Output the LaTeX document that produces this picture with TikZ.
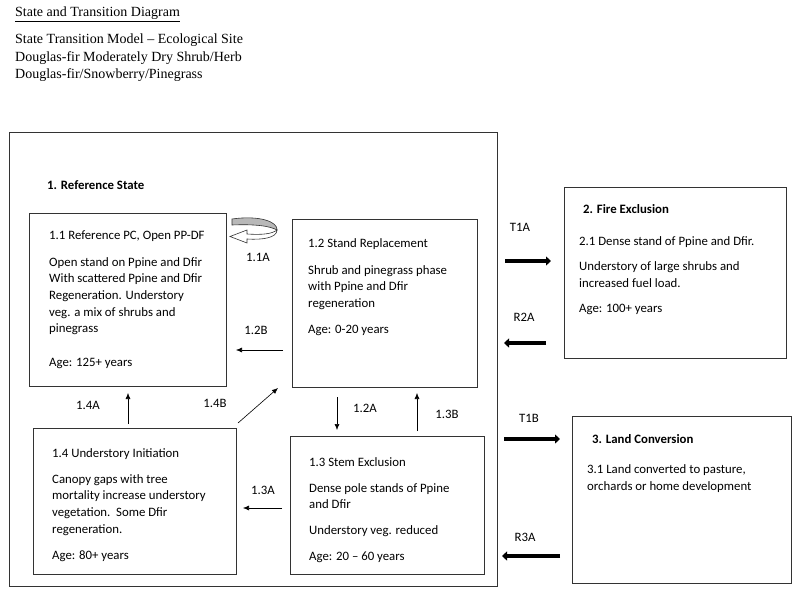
\documentclass[tikz,border=0pt]{standalone}
\usepackage{fontspec}
\setmainfont{Carlito}
\newfontfamily\headfont[Ligatures=TeX]{Liberation Serif}
\usepackage{tikz}
\usetikzlibrary{arrows.meta, calc}
\definecolor{boxGray}{rgb}{0.2,0.2,0.2}
\definecolor{loopGray}{rgb}{0.72,0.72,0.72}
\tikzset{
  statebox/.style={draw=boxGray, line width=0.8pt, inner sep=0pt},
  boxtext/.style={anchor=north west, align=left, inner sep=0pt, font=\fontsize{12.8}{16.7}\selectfont, execute at begin node=\strut},
  boxhead/.style={anchor=west, inner sep=0pt, font=\fontsize{12.8}{16.7}\selectfont\bfseries},
  steplabel/.style={inner sep=0pt, font=\fontsize{12.8}{16.7}\selectfont},
  pathway/.style={-{Latex[length=6pt,width=5pt]}, line width=0.6pt},
  transition/.style={-{Triangle[length=5pt,width=9pt]}, line width=3.6pt},
}

\begin{document}
\begin{tikzpicture}[x=1pt, y=-1pt]
  \useasboundingbox (0,0) rectangle (800,594);
  \node[anchor=west, inner sep=0pt, font=\headfont\fontsize{14}{17.3}\selectfont] (title) at (15,14.5) {\underline{State and Transition Diagram}};
  \node[anchor=north west, align=left, inner sep=0pt, font=\headfont\fontsize{14}{17.3}\selectfont] (site) at (15,31.5) {\strut State Transition Model -- Ecological Site\\ Douglas-fir Moderately Dry Shrub/Herb\\ Douglas-fir/Snowberry/Pinegrass};

  \node[statebox, minimum width=488pt, minimum height=454pt] (refstate) at (253,359) {};
  \node[boxhead] (refhead) at (47,185) {1. Reference State};

  \node[statebox, minimum width=197pt, minimum height=173pt] (ref11) at (127.5,299.5) {};
  \node[statebox, minimum width=185pt, minimum height=168pt] (ref12) at (384.5,303) {};
  \node[statebox, minimum width=203pt, minimum height=146pt] (ref14) at (134.5,501) {};
  \node[statebox, minimum width=194pt, minimum height=138pt] (ref13) at (387,505) {};
  \node[statebox, minimum width=222pt, minimum height=171pt] (fire) at (675,272.5) {};
  \node[statebox, minimum width=219pt, minimum height=167pt] (landconv) at (681.5,499.5) {};

  \node[boxtext] (ref11txt) at (49,231) {1.1 Reference PC, Open PP-DF\\[9.5pt] Open stand on Ppine and Dfir\\ With scattered Ppine and Dfir\\ Regeneration. Understory\\ veg. a mix of shrubs and\\ pinegrass\\[17pt] Age: 125+ years};
  \node[boxtext] (ref12txt) at (308,238.5) {1.2 Stand Replacement\\[10pt] Shrub and pinegrass phase\\ with Ppine and Dfir\\ regeneration\\[9.5pt] Age: 0-20 years};
  \node[boxtext] (ref14txt) at (52,448) {1.4 Understory Initiation\\[9.5pt] Canopy gaps with tree\\ mortality increase understory\\ vegetation.\ \ Some Dfir\\ regeneration.\\[9.5pt] Age: 80+ years};
  \node[boxtext] (ref13txt) at (309,457) {1.3 Stem Exclusion\\[9.5pt] Dense pole stands of Ppine\\ and Dfir\\[8.5pt] Understory veg. reduced\\[10pt] Age: 20 -- 60 years};
  \node[boxhead] (firehead) at (583,209) {2. Fire Exclusion};
  \node[boxtext] (firetxt) at (579,236.5) {2.1 Dense stand of Ppine and Dfir.\\[8.5pt] Understory of large shrubs and\\ increased fuel load.\\[8.5pt] Age: 100+ years};
  \node[boxhead] (landhead) at (592,439) {3. Land Conversion};
  \node[boxtext] (landtxt) at (587,464.5) {3.1 Land converted to pasture,\\ orchards or home development};

  \filldraw[fill=loopGray, draw=boxGray, line width=0.6pt] (232,219) .. controls (260,215) and (278,222) .. (277,230) .. controls (270,226) and (255,224) .. (232,225) -- cycle;
  \filldraw[fill=white, draw=boxGray, line width=0.6pt] (277,230) .. controls (277,238) and (262,240) .. (247,239) -- (247,243) -- (230,236.5) -- (247,230) -- (247,234) .. controls (262,235) and (272,234) .. (277,230) -- cycle;
  \node[steplabel] (l11A) at (258,257) {1.1A};

  \coordinate (p12B-from) at (283,350);
  \coordinate (p12B-to) at (236,350);
  \coordinate (p14A-from) at (128,424);
  \coordinate (p14A-to) at (128,393);
  \coordinate (p14B-from) at (238,423);
  \coordinate (p14B-to) at (278,388);
  \coordinate (p12A-from) at (337,397);
  \coordinate (p12A-to) at (337,430);
  \coordinate (p13B-from) at (417,431);
  \coordinate (p13B-to) at (417,393);
  \coordinate (p13A-from) at (282,508);
  \coordinate (p13A-to) at (243,508);
  \draw[pathway] (p12B-from) -- (p12B-to);
  \draw[pathway] (p14A-from) -- (p14A-to);
  \draw[pathway] (p14B-from) -- (p14B-to);
  \draw[pathway] (p12A-from) -- (p12A-to);
  \draw[pathway] (p13B-from) -- (p13B-to);
  \draw[pathway] (p13A-from) -- (p13A-to);
  \node[steplabel] (l12B) at (256,330) {1.2B};
  \node[steplabel] (l14A) at (88,405) {1.4A};
  \node[steplabel] (l14B) at (215,403) {1.4B};
  \node[steplabel] (l12A) at (365,408) {1.2A};
  \node[steplabel] (l13B) at (447,414) {1.3B};
  \node[steplabel] (l13A) at (263,490) {1.3A};

  \coordinate (t1A-from) at (505,261);
  \coordinate (t1A-to) at (551,261);
  \coordinate (r2A-from) at (546,343);
  \coordinate (r2A-to) at (504,343);
  \coordinate (t1B-from) at (504,439);
  \coordinate (t1B-to) at (560,439);
  \coordinate (r3A-from) at (560,556);
  \coordinate (r3A-to) at (502,556);
  \draw[transition] (t1A-from) -- (t1A-to);
  \draw[transition] (r2A-from) -- (r2A-to);
  \draw[transition] (t1B-from) -- (t1B-to);
  \draw[transition] (r3A-from) -- (r3A-to);
  \node[steplabel] (lT1A) at (520,227) {T1A};
  \node[steplabel] (lR2A) at (524,317) {R2A};
  \node[steplabel] (lT1B) at (529,418) {T1B};
  \node[steplabel] (lR3A) at (525,537) {R3A};
\end{tikzpicture}
\end{document}
